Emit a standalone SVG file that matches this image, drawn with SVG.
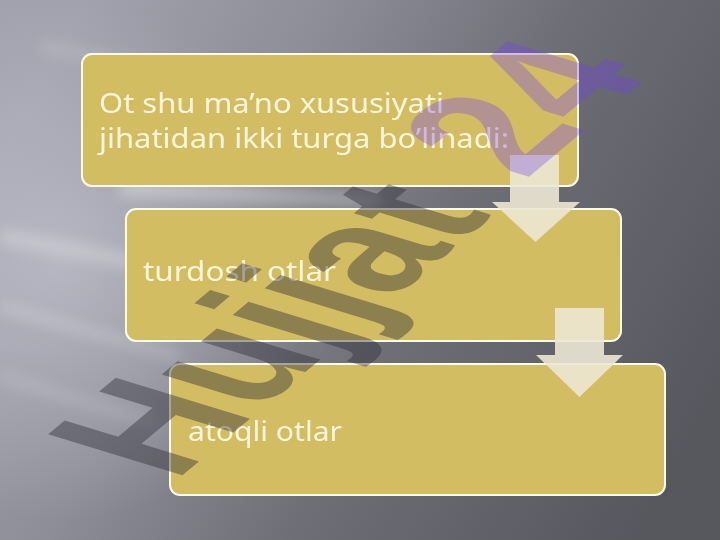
<svg xmlns="http://www.w3.org/2000/svg" width="720" height="540" viewBox="0 0 720 540">
  <defs>
    <linearGradient id="bg" x1="0" y1="0.3" x2="1" y2="0.7">
      <stop offset="0" stop-color="#a2a2ae"/>
      <stop offset="0.3" stop-color="#8d8d98"/>
      <stop offset="0.6" stop-color="#6d6d76"/>
      <stop offset="1" stop-color="#57575e"/>
    </linearGradient>
    <radialGradient id="glow" cx="60" cy="260" r="260" gradientUnits="userSpaceOnUse">
      <stop offset="0" stop-color="#c4c4d0" stop-opacity="0.7"/>
      <stop offset="1" stop-color="#c4c4d0" stop-opacity="0"/>
    </radialGradient>
    <filter id="blur" x="-20%" y="-50%" width="140%" height="200%">
      <feGaussianBlur stdDeviation="7"/>
    </filter>
    <style>
      .box { fill: #d3bd63; stroke: #fffbea; stroke-width: 2; }
      .lbl { font-family: "Noto Sans", "Open Sans", sans-serif; font-size: 27px; fill: #fbf5dc; }
      .arrow { fill: #ece7d3; fill-opacity: 0.9; }
      .wm { font-family: "Liberation Sans", Arial, sans-serif; font-weight: bold; font-size: 100px; }
    </style>
  </defs>

  <!-- background -->
  <rect x="0" y="0" width="720" height="540" fill="url(#bg)"/>
  <rect x="0" y="0" width="720" height="540" fill="url(#glow)"/>
  <g filter="url(#blur)" fill="#ffffff">
    <polygon points="120,180 380,196 380,206 120,196" opacity="0.35"/>
    <polygon points="0,228 170,262 170,276 0,244" opacity="0.25"/>
    <polygon points="0,300 180,352 180,362 0,312" opacity="0.2"/>
    <polygon points="0,370 160,420 160,430 0,382" opacity="0.15"/>
    <polygon points="40,40 300,90 300,100 40,52" opacity="0.15"/>
  </g>

  <!-- nodes -->
  <g id="node1">
    <rect class="box" x="82" y="54" width="496" height="132" rx="10"/>
    <text class="lbl" x="99" y="113" textLength="345" lengthAdjust="spacingAndGlyphs">Ot shu ma’no xususiyati</text>
    <text class="lbl" x="99" y="148" textLength="410" lengthAdjust="spacingAndGlyphs">jihatidan ikki turga bo’linadi:</text>
  </g>
  <g id="node2">
    <rect class="box" x="126" y="209" width="495" height="132" rx="10"/>
    <text class="lbl" x="143" y="281" textLength="193" lengthAdjust="spacingAndGlyphs">turdosh otlar</text>
  </g>
  <g id="node3">
    <rect class="box" x="170" y="364" width="495" height="131" rx="10"/>
    <text class="lbl" x="188" y="441" textLength="154" lengthAdjust="spacingAndGlyphs">atoqli otlar</text>
  </g>

  <!-- connectors -->
  <g id="connectors">
    <polygon class="arrow" points="510,155 559,155 559,202 580,202 535.5,242 492,202 510,202"/>
    <polygon class="arrow" points="555,308 604,308 604,355 623,355 579.5,397 536,355 555,355"/>
  </g>

  <!-- watermark -->
  <g id="watermark">
    <text class="wm" fill="#2b2b35" fill-opacity="0.42" transform="matrix(1.149,-0.964,1.951,0.596,174.7,481.7)">Hujjat</text>
    <text class="wm" fill="#7040f0" fill-opacity="0.33" transform="matrix(1.149,-0.964,1.951,0.596,525,180)">24</text>
  </g>
</svg>
